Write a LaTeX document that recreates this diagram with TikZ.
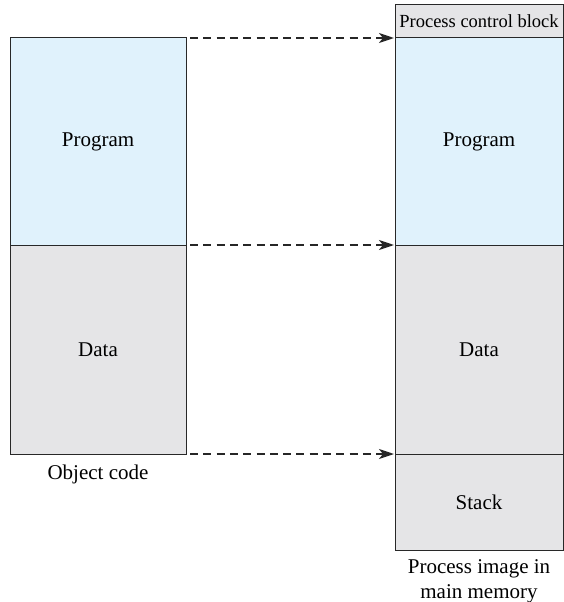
\documentclass[tikz,border=0pt]{standalone}
\usepackage{fontspec}
\setmainfont{Liberation Serif}
\usetikzlibrary{positioning, arrows.meta}

\definecolor{progblue}{RGB}{224,242,252}
\definecolor{datgray}{RGB}{229,229,231}
\definecolor{edgegray}{RGB}{40,40,40}

\begin{document}
\begin{tikzpicture}[
    x=1pt, y=-1pt,
    every node/.style={font=\fontsize{21}{25}\selectfont},
    blk/.style={draw=edgegray, line width=1pt, inner sep=0pt, outer sep=0pt, anchor=north west, minimum width=#1},
    prog/.style={blk=#1, fill=progblue},
    dat/.style={blk=#1, fill=datgray},
    flow/.style={draw=black!85, line width=2pt, dash pattern=on 8pt off 5.3pt, -{Stealth[length=15pt, width=10pt, inset=4pt]}},
    caption/.style={align=center, inner sep=0pt},
  ]
  \useasboundingbox (0,0) rectangle (564,602);
  % object code on the left
  \node[prog=176pt, minimum height=207pt] (objprog) at (10,38) {Program};
  \node[dat=176pt, minimum height=209pt] (objdata) at (10,245) {Data};
  \node[caption, below=11pt of objdata] (objcap) {Object code};
  % process image on the right
  \node[dat=168pt, minimum height=33pt, font=\fontsize{18.5}{22}\selectfont] (pcb) at (395,5) {Process control block};
  \node[prog=168pt, minimum height=207pt] (imgprog) at (395,38) {Program};
  \node[dat=168pt, minimum height=209pt] (imgdata) at (395,245) {Data};
  \node[dat=168pt, minimum height=96pt] (stack) at (395,454) {Stack};
  \node[caption, below=9pt of stack] (imgcap) {Process image in\\main memory};
  % mapping
  \draw[flow] ([xshift=4pt]objprog.north east) -- ([xshift=-1pt]imgprog.north west);
  \draw[flow] ([xshift=4pt]objdata.north east) -- ([xshift=-1pt]imgdata.north west);
  \draw[flow] ([xshift=4pt]objdata.south east) -- ([xshift=-1pt]stack.north west);
\end{tikzpicture}
\end{document}
